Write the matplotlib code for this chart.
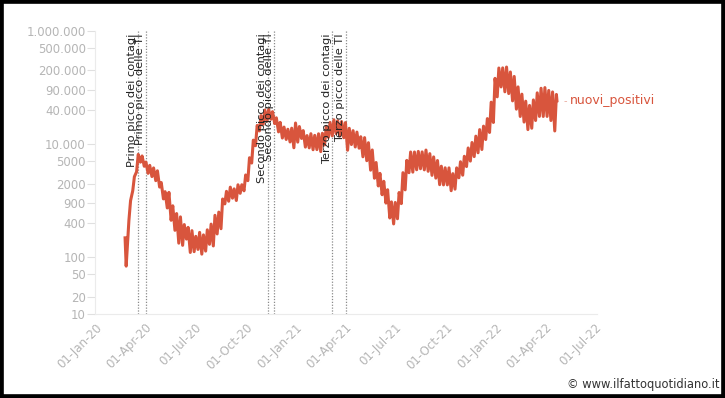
import matplotlib
matplotlib.use("Agg")
import matplotlib.pyplot as plt
import matplotlib.dates as mdates
import matplotlib.transforms as mtransforms
from matplotlib.patches import Rectangle
import numpy as np
import pandas as pd

# ---------------- data ----------------
opening_dates = ["2020-02-24", "2020-02-26"]
opening_values = [221, 70]

first_monday = "2020-03-02"
# weekly minimum (Monday) and weekly maximum (mid-week) of nuovi_positivi
weekly_low = [
    # 2020
    450, 1500, 3233, 4789, 4050, 3039, 2667, 2256, 1739, 1075, 744, 451, 300,
    178, 163, 210, 122, 126, 138, 114, 129, 170, 159, 259, 320, 878, 978,
    1108, 1008, 1350, 1494, 2257, 4619, 9338, 17012, 22253, 25271, 27354,
    22930, 16377, 12756, 12030, 10872, 8585,
    # 2021
    10800, 12545, 8824, 8561, 7925, 7970, 7351, 9630, 13114, 13902, 15267,
    13846, 12916, 7767, 9789, 8864, 8444, 5948, 5080, 3455, 2490, 1820, 1273,
    907, 495, 389, 480, 888, 1553, 3117, 3190, 3512, 3663, 3500, 3300, 2800,
    2500, 1917, 1900, 1900, 1500, 1597, 2535, 2818, 4000, 5000, 6000, 7000,
    8000, 12000, 16000, 24000,
    # 2022
    68052, 101762, 83403, 77696, 57715, 41247, 30629, 24408, 17978, 19000,
    26000, 30710, 30643, 30711, 26000, 17000,
]
weekly_high = [
    # 2020
    1000, 2650, 6557, 6153, 4805, 4204, 3786, 3370, 2091, 1444, 1402, 813, 593,
    518, 379, 338, 296, 235, 276, 249, 306, 386, 552, 629, 1071, 1462, 1733,
    1616, 1907, 1912, 2844, 5724, 11705, 21273, 31758, 39811, 40902, 37242,
    29003, 24099, 19903, 18236, 19037, 23477,
    # 2021
    20331, 17246, 14078, 15204, 14218, 15146, 15479, 20499, 24036, 26824,
    25735, 24935, 23904, 18938, 17221, 16232, 13446, 12965, 10554, 7852, 4717,
    3036, 2199, 1561, 953, 931, 1394, 3121, 5143, 7230, 7230, 7409, 7260, 7826,
    6761, 5923, 5117, 4061, 3804, 3794, 3000, 3794, 4866, 6076, 8516, 10638,
    13764, 17959, 20677, 28064, 54762, 144243,
    # 2022
    219441, 220532, 228179, 186740, 155697, 101864, 75861, 57000, 48000,
    60000, 80000, 96365, 99060, 88173, 83000, 75000,
]
closing_dates = ["2022-04-22"]
closing_values = [58000]

series_name = "nuovi_positivi"

event_dates = ["2020-03-18", "2020-04-02", "2020-11-10",
               "2020-11-22", "2021-03-08", "2021-04-02"]
event_labels = ["Primo picco dei contagi", "Primo picco delle TI",
                "Secondo picco dei contagi", "Secondo picco delle TI",
                "Terzo picco dei contagi", "Terzo picco delle TI"]

y_ticks = [10, 20, 50, 100, 400, 900, 2000, 5000, 10000, 40000, 90000,
           200000, 500000, 1000000]
x_ticks = pd.date_range("2020-01-01", "2022-07-01", freq="QS")

watermark = "© www.ilfattoquotidiano.it"

# ---------------- build the series ----------------
mondays = pd.date_range(first_monday, periods=len(weekly_low), freq="7D")
dates = list(pd.to_datetime(opening_dates))
values = list(opening_values)
for d, lo, hi in zip(mondays, weekly_low, weekly_high):
    dates += [d, d + pd.Timedelta(days=3)]
    values += [lo, hi]
dates += list(pd.to_datetime(closing_dates))
values += closing_values

# ---------------- figure ----------------
RED = "#d8553d"
fig = plt.figure(figsize=(7.25, 3.98), dpi=100)
ax = fig.add_axes([0.1317, 0.211, 0.6917, 0.7119])

ax.plot(dates, values, color=RED, lw=2.2, solid_joinstyle="round")

ax.set_yscale("log")
ax.set_ylim(10, 1_000_000)
ax.set_xlim(pd.Timestamp("2020-01-01"), pd.Timestamp("2022-07-04"))

ax.yaxis.set_major_locator(matplotlib.ticker.FixedLocator(y_ticks))
ax.yaxis.set_minor_locator(matplotlib.ticker.NullLocator())


def fmt(v, pos=None):
    v = int(round(v))
    return f"{v:,}".replace(",", ".") if v >= 10000 else str(v)


ax.yaxis.set_major_formatter(matplotlib.ticker.FuncFormatter(fmt))

ax.set_xticks(x_ticks)
ax.xaxis.set_major_formatter(mdates.DateFormatter("%d-%b-%y"))

TICKC = "#b5b5b5"
ax.tick_params(axis="y", colors="#e0e0e0", labelcolor=TICKC, labelsize=8.5,
               length=6, width=0.8, pad=1)
ax.tick_params(axis="x", colors="#e8e8e8", labelcolor=TICKC, labelsize=8.5,
               length=0, pad=5)
for lab in ax.get_xticklabels():
    lab.set_rotation(45)
    lab.set_ha("right")
    lab.set_va("top")
    lab.set_rotation_mode("anchor")

for s in ("top", "right"):
    ax.spines[s].set_visible(False)
for s in ("left", "bottom"):
    ax.spines[s].set_color("#ebebeb")
    ax.spines[s].set_linewidth(0.8)

# event lines and labels
trans = mtransforms.blended_transform_factory(ax.transData, ax.transAxes)
for d, lab in zip(event_dates, event_labels):
    dt = pd.Timestamp(d)
    ax.axvline(dt, color="#8a8a8a", lw=0.9, ls=(0, (1, 1.3)), zorder=1)
    ax.text(dt - pd.Timedelta(days=1), 0.99, lab, transform=trans,
            rotation=90, ha="right", va="top", fontsize=8.2, color="#222222",
            zorder=3)

# series label at the end of the line
last_x, last_y = dates[-1], values[-1]
off_txt = mtransforms.offset_copy(ax.transData, fig=fig, x=9.5, y=0,
                                  units="points")
ax.text(last_x, last_y, series_name, transform=off_txt, color=RED,
        fontsize=9, ha="left", va="center", clip_on=False)
off_d1 = mtransforms.offset_copy(ax.transData, fig=fig, x=5, y=0, units="points")
ax.text(last_x, last_y, "-", transform=off_d1, color="#e8a99c",
        fontsize=7, ha="left", va="center", clip_on=False)

# watermark
fig.text(0.992, 0.035, watermark, ha="right", va="center", fontsize=8.3,
         color="#333333")

# black frame
fig.patches.append(Rectangle((0, 0), 1, 1, transform=fig.transFigure,
                             fill=False, edgecolor="black", linewidth=5.5,
                             zorder=10))

fig.savefig("out.png", dpi=100, facecolor="white")
